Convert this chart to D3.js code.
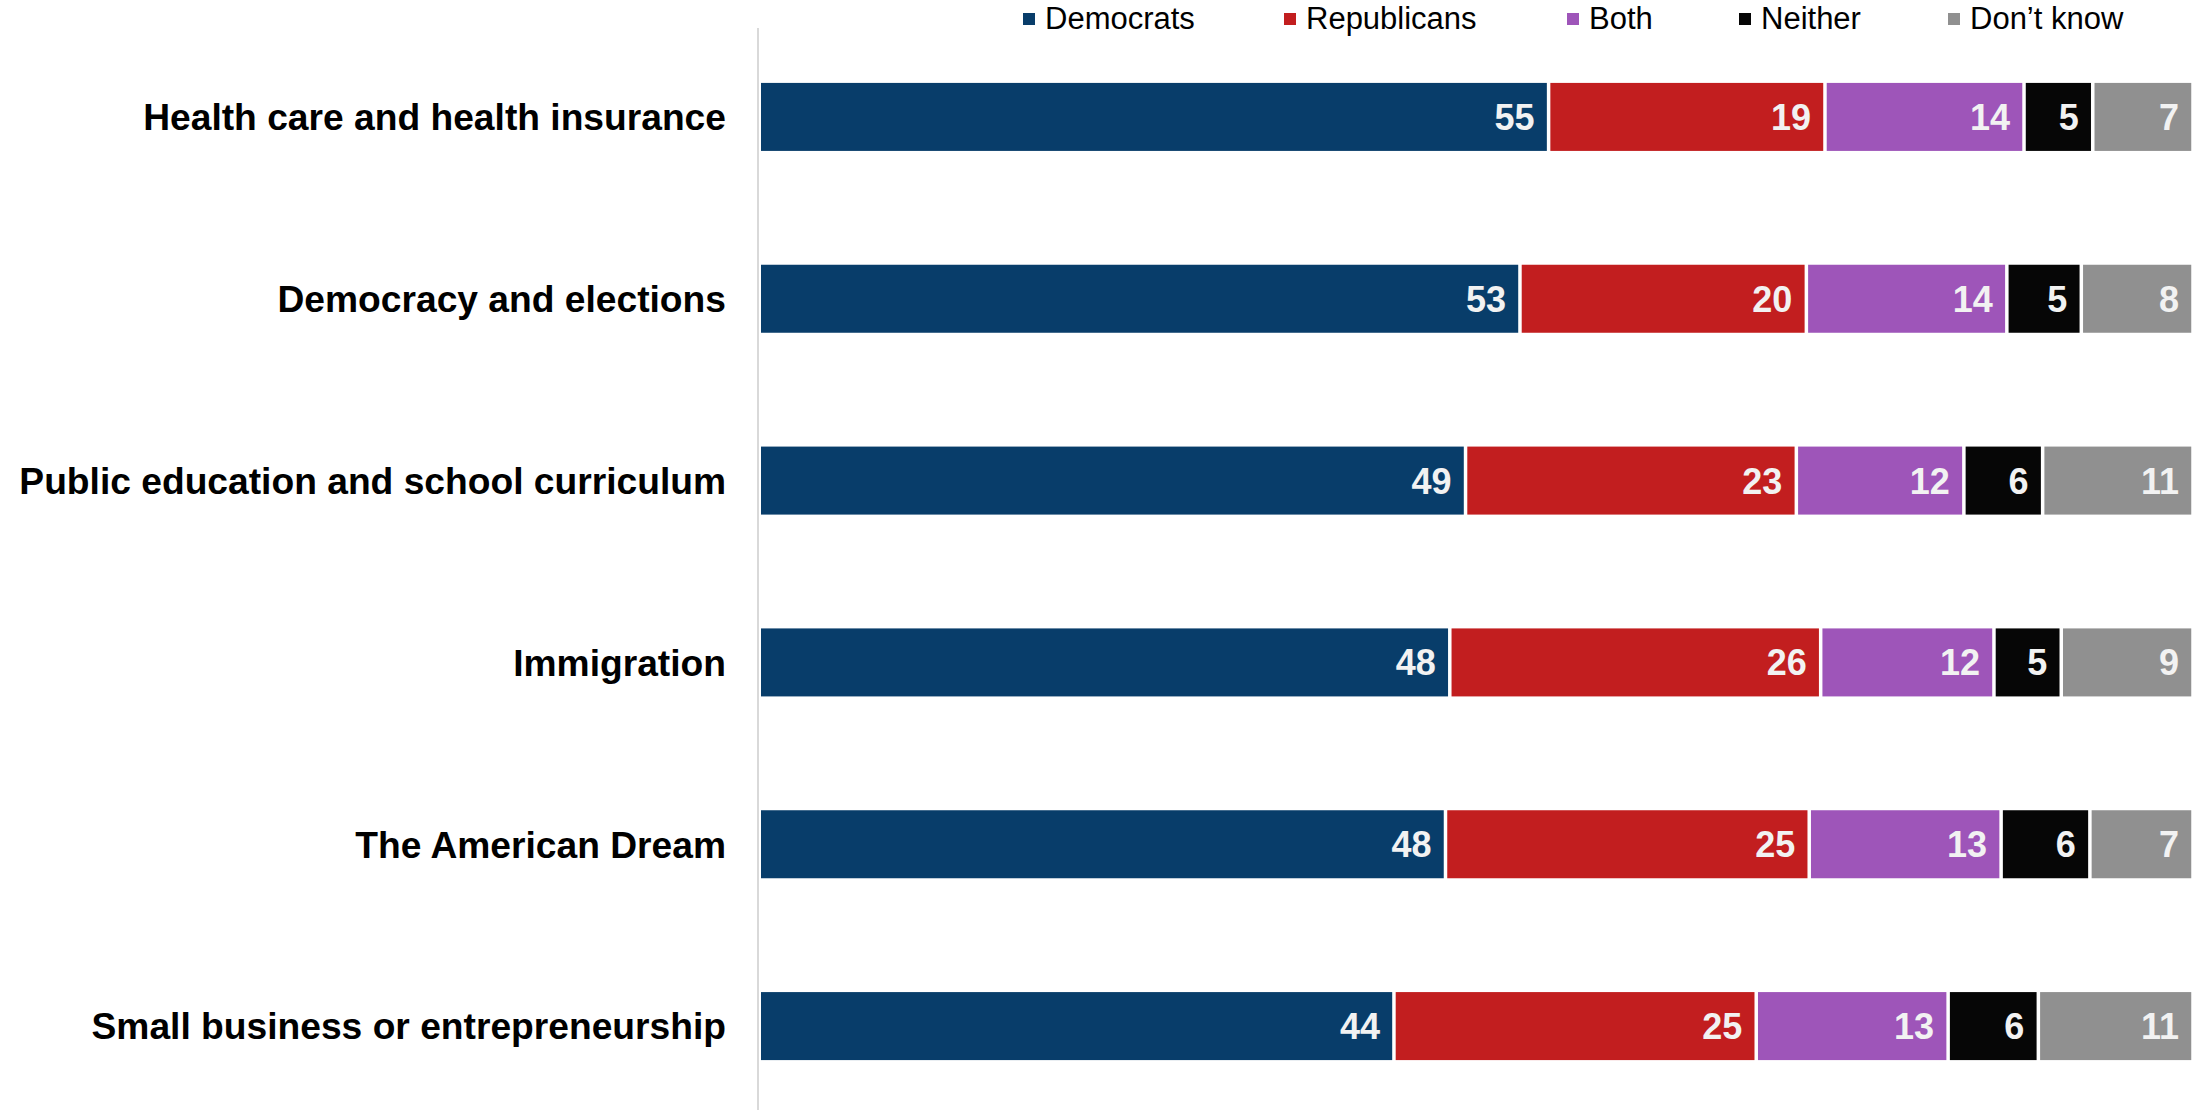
<!DOCTYPE html>
<html>
<head>
<meta charset="utf-8">
<script src="https://cdn.jsdelivr.net/npm/d3@7"></script>
<style>
  html, body { margin: 0; padding: 0; background: #ffffff; }
  svg { display: block; font-family: "Liberation Sans", Arial, sans-serif; }
</style>
</head>
<body>
<svg id="chart" width="2197" height="1110"></svg>
<script>
const categories = [
  "Health care and health insurance",
  "Democracy and elections",
  "Public education and school curriculum",
  "Immigration",
  "The American Dream",
  "Small business or entrepreneurship"
];
const seriesNames = ["Democrats", "Republicans", "Both", "Neither", "Don\u2019t know"];
// percentages (labels show them rounded)
const democrats   = [55.0, 53.0, 49.2, 48.1, 47.8, 44.2];
const republicans = [19.3, 20.0, 23.1, 25.9, 25.4, 25.3];
const both        = [13.9, 14.0, 11.7, 12.1, 13.4, 13.4];
const neither     = [4.8, 5.2, 5.5, 4.7, 6.2, 6.3];
const dontKnow    = [7.0, 7.8, 10.5, 9.2, 7.2, 10.8];
const colors = ["#083d6a", "#c21e1f", "#9e55b9", "#060606", "#909090"];

const seriesValues = [democrats, republicans, both, neither, dontKnow];
const rows = categories.map((c, i) => {
  const r = { category: c };
  seriesNames.forEach((s, j) => { r[s] = seriesValues[j][i]; });
  return r;
});
const stacked = d3.stack().keys(seriesNames)(rows);

const svg = d3.select("#chart");
const x = d3.scaleLinear().domain([0, 100]).range([761, 2193]);
const y = d3.scaleBand().domain(categories).range([26, 1117]).paddingInner(0.626).paddingOuter(0.313);

// vertical axis line
svg.append("line")
  .attr("x1", 758).attr("x2", 758).attr("y1", 28).attr("y2", 1110)
  .attr("stroke", "#d9d9d9").attr("stroke-width", 2);

const color = d3.scaleOrdinal().domain(seriesNames).range(colors);

const groups = svg.selectAll("g.series").data(stacked).enter().append("g")
  .attr("class", "series").attr("fill", d => color(d.key));

groups.selectAll("rect").data(d => d).enter().append("rect")
  .attr("x", d => x(d[0]) + (d[0] === 0 ? 0 : 1.75))
  .attr("width", d => x(d[1]) - x(d[0]) - (d[0] === 0 ? 1.75 : 3.5))
  .attr("y", d => y(d.data.category))
  .attr("height", y.bandwidth());

groups.each(function(s) {
  d3.select(this).selectAll("text").data(s).enter().append("text")
    .attr("x", d => x(d[1]) - 14)
    .attr("y", d => y(d.data.category) + y.bandwidth() / 2)
    .attr("dy", "0.36em")
    .attr("text-anchor", "end")
    .attr("fill", "#f2f2f2")
    .attr("font-weight", "bold")
    .attr("font-size", 36)
    .text(d => Math.round(d.data[s.key]));
});

// category labels
svg.selectAll("text.cat").data(categories).enter().append("text")
  .attr("class", "cat")
  .attr("x", 726)
  .attr("y", d => y(d) + y.bandwidth() / 2)
  .attr("dy", "0.36em")
  .attr("text-anchor", "end")
  .attr("font-weight", "bold")
  .attr("font-size", 37.2)
  .attr("fill", "#000")
  .text(d => d);

// legend
const legendX = [1023, 1284, 1567, 1739, 1948];
const legend = svg.selectAll("g.legend").data(seriesNames).enter().append("g")
  .attr("class", "legend")
  .attr("transform", (d, i) => `translate(${legendX[i]},0)`);
legend.append("rect")
  .attr("x", 0).attr("y", 13).attr("width", 12).attr("height", 12)
  .attr("fill", d => color(d));
legend.append("text")
  .attr("x", 22).attr("y", 29)
  .attr("font-size", 31)
  .attr("fill", "#000")
  .text(d => d);
</script>
</body>
</html>
